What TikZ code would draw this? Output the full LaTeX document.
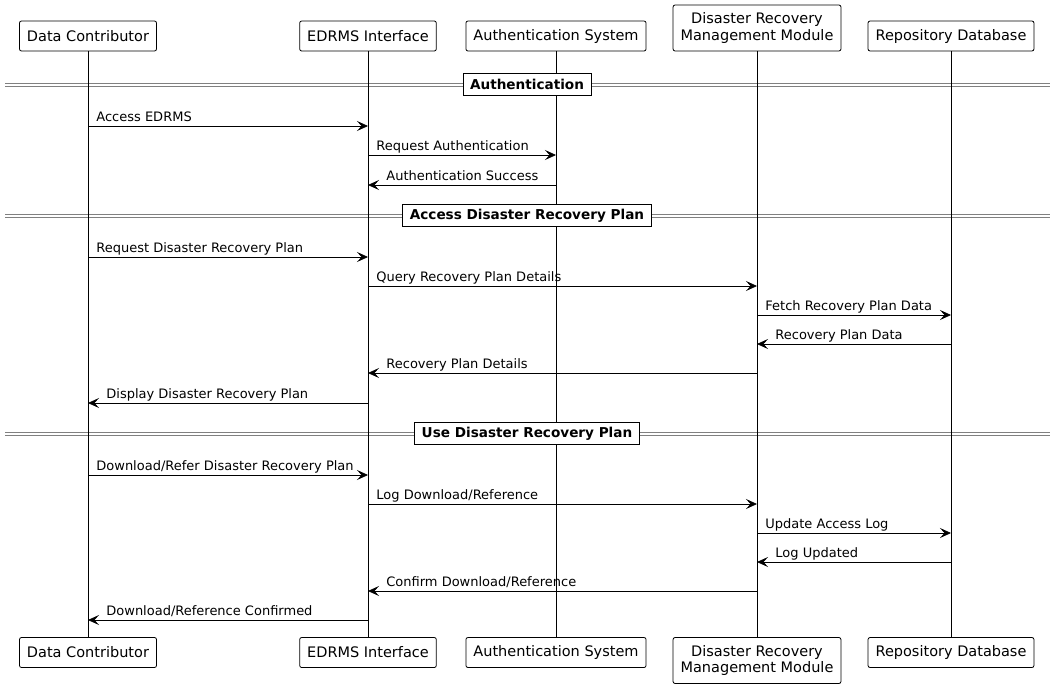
\documentclass[tikz,border=0pt]{standalone}
\usepackage{fontspec}
\setmainfont{DejaVu Sans}
\usetikzlibrary{arrows.meta}

\begin{document}
\begin{tikzpicture}[
    x=1pt, y=-1pt,
    actor/.style   = {draw, rounded corners=2pt, line width=0.8pt, fill=white, align=center,
                      minimum height=30pt, inner xsep=7.5pt, font=\fontsize{14.5}{16.5}\selectfont},
    lifeline/.style= {draw, line width=0.8pt},
    sepline/.style = {draw, gray, line width=0.8pt},
    seplabel/.style= {draw, fill=white, line width=0.8pt, inner xsep=7pt, minimum height=22pt,
                      font=\fontsize{13.6}{15}\selectfont\bfseries},
    msg/.style     = {draw, line width=0.8pt, -{Stealth[length=11pt, width=10pt, inset=4.5pt]}},
    lblR/.style    = {pos=0, anchor=base west, xshift=8pt, yshift=5pt, inner sep=0pt,
                      font=\fontsize{13}{15}\selectfont},
    lblL/.style    = {pos=1, anchor=base west, xshift=18pt, yshift=5pt, inner sep=0pt,
                      font=\fontsize{13}{15}\selectfont},
  ]
  \useasboundingbox (0,0) rectangle (1055,689);

  % separators
  \foreach \y in {83,214,432} {
    \draw[sepline] (5,\y) -- (1050,\y);
    \draw[sepline] (5,\y+3) -- (1050,\y+3);
  }

  % participants
  \node[actor] (dcTop)   at (88,36)    {Data Contributor};
  \node[actor] (edTop)   at (368,36)   {EDRMS Interface};
  \node[actor] (auTop)   at (556,36)   {Authentication System};
  \node[actor, minimum height=46pt] (drTop) at (757,28) {Disaster Recovery\\Management Module};
  \node[actor] (rdTop)   at (951,36)   {Repository Database};
  \node[actor] (dcBot)   at (88,652.5) {Data Contributor};
  \node[actor] (edBot)   at (368,652.5) {EDRMS Interface};
  \node[actor] (auBot)   at (556,652.5) {Authentication System};
  \node[actor, minimum height=46pt] (drBot) at (757,660.5) {Disaster Recovery\\Management Module};
  \node[actor] (rdBot)   at (951,652.5) {Repository Database};

  \draw[lifeline] (dcTop) -- (dcBot);
  \draw[lifeline] (edTop) -- (edBot);
  \draw[lifeline] (auTop) -- (auBot);
  \draw[lifeline] (drTop) -- (drBot);
  \draw[lifeline] (rdTop) -- (rdBot);

  % group labels
  \node[seplabel] (secAuth) at (527,84.5)  {Authentication\hspace{7pt}};
  \node[seplabel] (secPlan) at (527,215.5) {Access Disaster Recovery Plan\hspace{7pt}};
  \node[seplabel] (secUse)  at (527,433.5) {Use Disaster Recovery Plan\hspace{7pt}};

  % Authentication
  \draw[msg] (dcTop |- 0,126) -- node[lblR]{Access EDRMS} (edTop |- 0,126);
  \draw[msg] (edTop |- 0,155) -- node[lblR]{Request Authentication} (auTop |- 0,155);
  \draw[msg] (auTop |- 0,185) -- node[lblL]{Authentication Success} (edTop |- 0,185);

  % Access Disaster Recovery Plan
  \draw[msg] (dcTop |- 0,257) -- node[lblR]{Request Disaster Recovery Plan} (edTop |- 0,257);
  \draw[msg] (edTop |- 0,286) -- node[lblR]{Query Recovery Plan Details} (drTop |- 0,286);
  \draw[msg] (drTop |- 0,315) -- node[lblR]{Fetch Recovery Plan Data} (rdTop |- 0,315);
  \draw[msg] (rdTop |- 0,344) -- node[lblL]{Recovery Plan Data} (drTop |- 0,344);
  \draw[msg] (drTop |- 0,373) -- node[lblL]{Recovery Plan Details} (edTop |- 0,373);
  \draw[msg] (edTop |- 0,403) -- node[lblL]{Display Disaster Recovery Plan} (dcTop |- 0,403);

  % Use Disaster Recovery Plan
  \draw[msg] (dcTop |- 0,475) -- node[lblR]{Download/Refer Disaster Recovery Plan} (edTop |- 0,475);
  \draw[msg] (edTop |- 0,504) -- node[lblR]{Log Download/Reference} (drTop |- 0,504);
  \draw[msg] (drTop |- 0,533) -- node[lblR]{Update Access Log} (rdTop |- 0,533);
  \draw[msg] (rdTop |- 0,562) -- node[lblL]{Log Updated} (drTop |- 0,562);
  \draw[msg] (drTop |- 0,591) -- node[lblL]{Confirm Download/Reference} (edTop |- 0,591);
  \draw[msg] (edTop |- 0,620) -- node[lblL]{Download/Reference Confirmed} (dcTop |- 0,620);
\end{tikzpicture}
\end{document}
